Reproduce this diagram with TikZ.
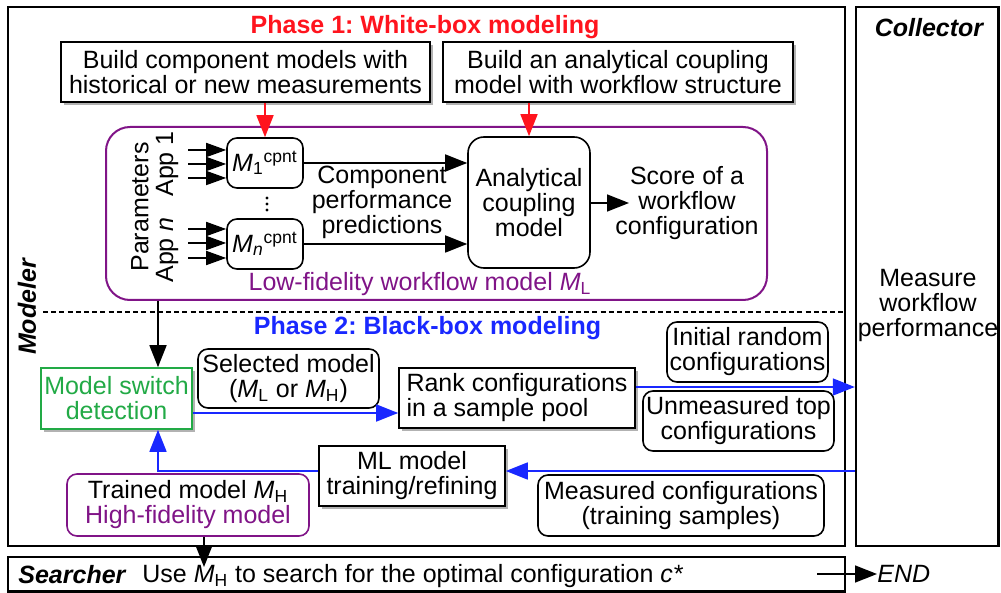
\documentclass[tikz,border=0pt]{standalone}
\usepackage{fontspec}
\setmainfont{Liberation Sans}
\usetikzlibrary{arrows.meta,shadows,calc}
\definecolor{pred}{RGB}{255,20,30}
\definecolor{pblue}{RGB}{25,40,255}
\definecolor{pgreen}{RGB}{34,170,70}
\definecolor{ppurple}{RGB}{128,20,135}
\frenchspacing
\begin{document}
\begin{tikzpicture}[x=0.5pt,y=-0.5pt,
  font=\fontsize{12.5}{12.5}\selectfont,
  box/.style={draw, line width=0.8pt, inner sep=0pt, align=center, fill=white},
  shbox/.style={box, drop shadow={shadow xshift=1.6pt, shadow yshift=-1.6pt, fill=black!30, opacity=1}},
  rbox/.style={box, rounded corners=5pt},
  outerbox/.style={draw, line width=1.2pt, inner sep=0pt},
  arr/.style={line width=0.8pt, -{Triangle[length=11pt,width=8.5pt]}},
  inarr/.style={line width=0.8pt, -{Triangle[length=10pt,width=7pt]}},
  lbl/.style={inner sep=0pt, align=center}
]
\useasboundingbox (0,0) rectangle (1001,593);

% outer frames
\node[outerbox, minimum width=418.5pt, minimum height=269.5pt] (modeler) at (426.5,276.5) {};
\node[outerbox, minimum width=71.25pt, minimum height=269.5pt] (collector) at (927.25,276.5) {};
\node[outerbox, minimum width=418.5pt, minimum height=17.25pt] (searcher) at (426.5,574.25) {};

% labels of frames
\node[lbl, font=\fontsize{12.5}{12.5}\selectfont\bfseries\itshape] (collab) at (929,28) {Collector};
\node[lbl, rotate=90, font=\fontsize{12.5}{12.5}\selectfont\bfseries\itshape] (modlab) at (27,307) {Modeler};
\node[lbl] (measure) at (928,305) {Measure\\workflow\\performance};

% Phase 1
\node[lbl, text=pred, font=\fontsize{12.5}{12.5}\selectfont\bfseries] (phase1) at (425,27) {Phase 1: White-box modeling};
\node[shbox, minimum width=184.5pt, minimum height=30pt] (b1) at (245.5,72) {Build component models with\\historical or new measurements};
\node[shbox, minimum width=175pt, minimum height=30pt] (b2) at (618,72) {Build an analytical coupling\\model with workflow structure};

\node[draw=ppurple, line width=1pt, rounded corners=12pt, minimum width=330.5pt, minimum height=86.5pt, inner sep=0pt] (lowbox) at (436.5,213.5) {};

\node[rbox, minimum width=38pt, minimum height=25pt] (m1) at (265,163) {\itshape M\textsubscript{\upshape 1}\textsuperscript{\upshape cpnt}};
\node[rbox, minimum width=38pt, minimum height=25pt] (mn) at (265,244) {\itshape M\textsubscript{n}\textsuperscript{\upshape cpnt}};
\foreach \yy in {198,204,210} \fill (267,\yy) circle[radius=0.8pt];

\node[box, rounded corners=8pt, minimum width=61pt, minimum height=65.5pt] (anal) at (529,202.5) {Analytical\\coupling\\model};
\node[lbl] (comp) at (382,202) {Component\\performance\\predictions};
\node[lbl] (score) at (687,203) {Score of a\\workflow\\configuration};
\node[lbl, text=ppurple] (lowlab) at (420,284) {Low-fidelity workflow model \textit{M}\textsubscript{L}};

\node[lbl, rotate=90] (params) at (140,207) {Parameters};
\node[lbl, rotate=90] (app1) at (167,164) {App 1};
\node[lbl, rotate=90] (appn) at (167,250) {App \textit{n}};

% input arrows
\coordinate (i1) at (188,150);
\coordinate (i2) at (188,164);
\coordinate (i3) at (188,178);
\coordinate (j1) at (188,229);
\coordinate (j2) at (188,243);
\coordinate (j3) at (188,258);
\foreach \c/\t in {i1/m1,i2/m1,i3/m1,j1/mn,j2/mn,j3/mn}
  \draw[inarr] (\c) -- (\c -| \t.west);

\draw[arr, pred] (b1.south -| m1.north) -- (m1.north);
\draw[arr, pred] (b2.south -| anal.north) -- (anal.north);
\draw[arr] (m1.east) -- (m1.east -| anal.west);
\draw[arr] (mn.east) -- (mn.east -| anal.west);
\coordinate (scoretip) at (629,203);
\draw[arr] (anal.east |- scoretip) -- (scoretip);

% divider
\coordinate (dashl) at (43,312);
\draw[line width=0.8pt, dash pattern=on 2.5pt off 1.6pt] (dashl) -- (dashl -| modeler.east);

% Phase 2
\node[lbl, text=pblue, font=\fontsize{12.5}{12.5}\selectfont\bfseries] (phase2) at (427.5,328) {Phase 2: Black-box modeling};
\node[shbox, draw=pgreen, text=pgreen, minimum width=75.5pt, minimum height=30.5pt] (msw) at (116.5,398.5) {Model switch\\detection};
\node[rbox, minimum width=90.5pt, minimum height=29.5pt] (sel) at (288.5,378.5) {Selected model\\(\textit{M}\textsubscript{L} or \textit{M}\textsubscript{H})};
\node[shbox, minimum height=30pt, minimum width=118pt, align=left] (rank) at (517,398) {Rank configurations\\in a sample pool};
\node[rbox, minimum width=80.5pt, minimum height=30pt] (init) at (747.5,352) {Initial random\\configurations};
\node[rbox, minimum width=95.5pt, minimum height=30pt] (unm) at (738.5,421) {Unmeasured top\\configurations};
\node[shbox, minimum width=93pt, minimum height=30pt] (ml) at (412,476) {ML model\\training/refining};
\node[rbox, draw=ppurple, minimum width=121pt, minimum height=31pt] (trained) at (188,505) {Trained model \textit{M}\textsubscript{H}\\\textcolor{ppurple}{High-fidelity model}};
\node[rbox, minimum width=143pt, minimum height=30.5pt] (meas) at (681,505.5) {Measured configurations\\(training samples)};

% connectors phase 2
\coordinate (cx) at (158,300);
\draw[arr] (lowbox.south -| cx) -- (msw.north -| cx);
\coordinate (y1) at (0,413);
\draw[arr, pblue] (msw.east |- y1) -- (rank.west |- y1);
\coordinate (y2) at (0,387);
\draw[arr, pblue] (rank.east |- y2) -- (collector.west |- y2);
\coordinate (y3) at (0,471);
\draw[arr, pblue] (collector.west |- y3) -- (ml.east |- y3);
\draw[arr, pblue] (ml.west |- y3) -- (cx |- y3) -- (msw.south -| cx);

% searcher
\coordinate (tx) at (204,567);
\draw[arr] (trained.south -| tx) -- (tx);
\node[lbl, anchor=west, font=\fontsize{12.5}{12.5}\selectfont\bfseries\itshape] (searchlab) at (18,575) {Searcher};
\node[lbl, anchor=west] (usemh) at (142,576) {Use \textit{M}\textsubscript{H} to search for the optimal configuration \textit{c*}};
\coordinate (ends) at (817,574);
\node[lbl, anchor=west, font=\fontsize{12.5}{12.5}\selectfont\itshape] (endlab) at (877,574) {END};
\draw[arr] (ends) -- (endlab.west);
\end{tikzpicture}
\end{document}
